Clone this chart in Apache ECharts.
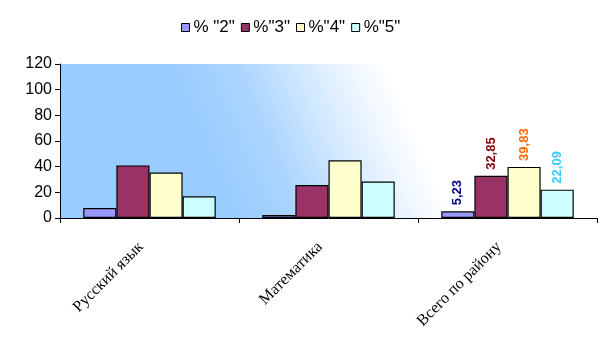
<!DOCTYPE html>
<html>
<head>
<meta charset="utf-8">
<script src="https://cdn.jsdelivr.net/npm/echarts@6/dist/echarts.min.js"></script>
<style>
  html, body { margin: 0; padding: 0; background: #fff; }
  #chart { width: 616px; height: 353px; }
</style>
</head>
<body>
<div id="chart"></div>
<script>
// categories and series values
var categories = ['Русский язык', 'Математика', 'Всего по району'];
var names = ['% "2"', '%"3"', '%"4"', '%"5"'];
var grade2 = [7.8, 2.3, 5.23];
var grade3 = [41.0, 25.7, 32.85];
var grade4 = [35.5, 45.0, 39.83];
var grade5 = [17.0, 28.5, 22.09];
var yTicks = [0, 20, 40, 60, 80, 100, 120];

var fills = ['#9999FF', '#993366', '#FFFFCC', '#CCFFFF'];
var labelColors = ['#000080', '#800000', '#FF6600', '#33CCFF'];
var labelledIndex = 2; // only the "Всего по району" group has labels

function makeSeries(name, values, idx) {
  return {
    name: name,
    type: 'bar',
    barGap: 0,
    barCategoryGap: '26%',
    itemStyle: { color: fills[idx], borderColor: '#000', borderWidth: 1.2 },
    data: values.map(function (v, i) {
      return {
        value: v,
        label: {
          show: i === labelledIndex,
          position: 'top',
          rotate: 90,
          align: 'left',
          verticalAlign: 'middle',
          distance: 6,
          color: labelColors[idx],
          fontFamily: 'Liberation Sans',
          fontWeight: 'bold',
          fontSize: 13,
          formatter: function (p) { return p.value.toFixed(2).replace('.', ','); }
        }
      };
    })
  };
}

// diagonal blue -> white fill behind the plot (pixel coords)
var plotFill = new echarts.graphic.LinearGradient(170, 64, 352, -15, [
  { offset: 0, color: '#99CCFF' },
  { offset: 0.3, color: '#ABD5FF' },
  { offset: 0.6, color: '#D3E9FF' },
  { offset: 0.85, color: '#F1F8FF' },
  { offset: 1, color: '#FFFFFF' }
], true);

var chart = echarts.init(document.getElementById('chart'));
chart.setOption({
  animation: false,
  legend: {
    top: 14,
    left: 176,
    itemWidth: 8,
    itemHeight: 8,
    itemGap: 6,
    icon: 'rect',
    textStyle: { fontFamily: 'Liberation Sans', fontSize: 17, color: '#000', padding: [0, 0, 0, -1] },
    itemStyle: { borderColor: '#000', borderWidth: 1 },
    data: names
  },
  grid: {
    left: 60, right: 19, top: 64, bottom: 135,
    show: true,
    borderWidth: 0,
    backgroundColor: plotFill
  },
  xAxis: {
    type: 'category',
    data: categories,
    axisLine: { lineStyle: { color: '#000', width: 1 } },
    axisTick: { show: true, length: 5, lineStyle: { color: '#000' } },
    axisLabel: {
      rotate: 45,
      interval: 0,
      margin: 18,
      padding: [0, 12, 0, 0],
      color: '#000',
      fontFamily: 'Liberation Serif',
      fontSize: 16
    }
  },
  yAxis: {
    type: 'value',
    min: yTicks[0],
    max: yTicks[yTicks.length - 1],
    interval: 20,
    splitLine: { show: false },
    axisLine: { show: true, lineStyle: { color: '#000', width: 1 } },
    axisTick: { show: true, length: 5, lineStyle: { color: '#000' } },
    axisLabel: { color: '#000', fontFamily: 'Liberation Sans', fontSize: 16, margin: 8 }
  },
  series: [
    makeSeries(names[0], grade2, 0),
    makeSeries(names[1], grade3, 1),
    makeSeries(names[2], grade4, 2),
    makeSeries(names[3], grade5, 3)
  ]
});
</script>
</body>
</html>
